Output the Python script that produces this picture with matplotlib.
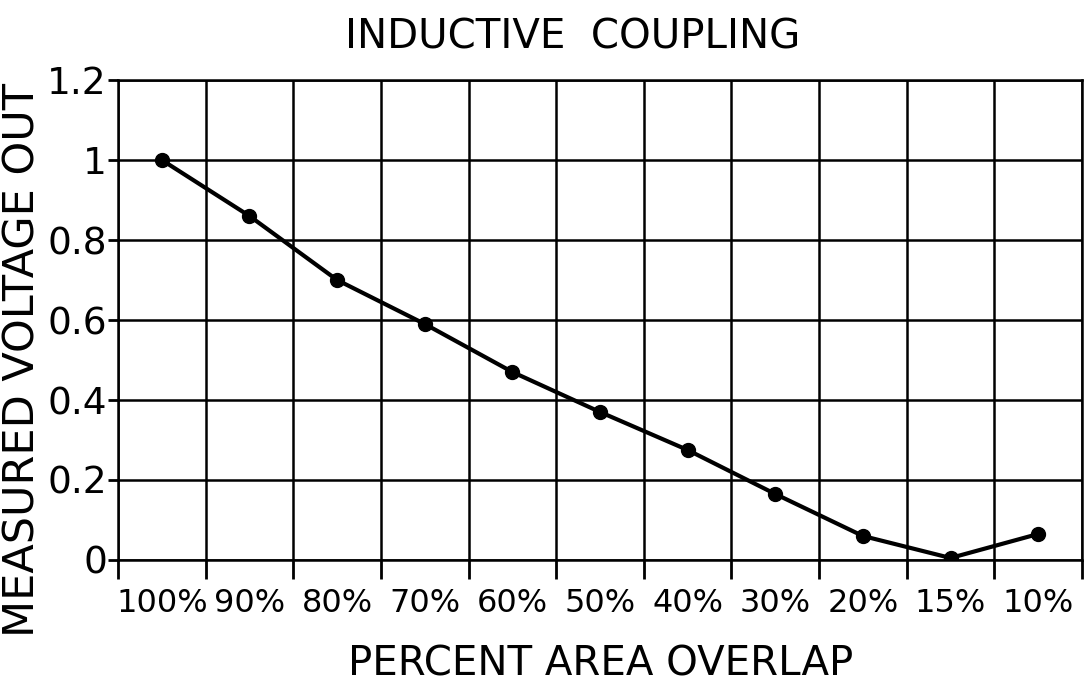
import matplotlib.pyplot as plt
import numpy as np

categories = ['100%', '90%', '80%', '70%', '60%', '50%', '40%', '30%', '20%', '15%', '10%']
voltage = [1.0, 0.86, 0.70, 0.59, 0.47, 0.37, 0.275, 0.165, 0.06, 0.005, 0.065]
y_ticks = [0, 0.2, 0.4, 0.6, 0.8, 1.0, 1.2]
y_labels = ['0', '0.2', '0.4', '0.6', '0.8', '1', '1.2']

plt.rcParams['font.family'] = ['DejaVu Sans']

fig = plt.figure(figsize=(10.86, 6.84), dpi=100)
ax = fig.add_axes([0.1087, 0.1813, 0.8876, 0.7017])

x = np.arange(len(categories))
ax.plot(x, voltage, color='black', linewidth=3, marker='o', markersize=10)

ax.set_xlim(-0.5, len(categories) - 0.5)
ax.set_ylim(0, 1.2)

# category labels at centres, grid/ticks at cell boundaries
ax.set_xticks(x)
ax.set_xticklabels(categories, fontsize=23)
ax.tick_params(axis='x', which='major', length=0, pad=20)
ax.set_xticks(np.arange(len(categories) + 1) - 0.5, minor=True)
ax.tick_params(axis='x', which='minor', length=14, width=2, direction='out')
ax.grid(axis='x', which='minor', color='black', linewidth=1.8)

ax.set_yticks(y_ticks)
ax.set_yticklabels(y_labels, fontsize=27)
ax.tick_params(axis='y', which='major', length=7, width=2, pad=1)
ax.grid(axis='y', which='major', color='black', linewidth=1.8)

for s in ax.spines.values():
    s.set_linewidth(1.8)

fig.text(0.5276, 0.9298, 'INDUCTIVE  COUPLING', fontsize=29, ha='center', va='baseline')
ax.set_xlabel('PERCENT AREA OVERLAP', fontsize=29)
ax.xaxis.set_label_coords(0.501, -0.177)
ax.set_ylabel('MEASURED VOLTAGE OUT', fontsize=31)
ax.yaxis.set_label_coords(-0.077, 0.4167)

plt.savefig('out.png')
plt.close()
